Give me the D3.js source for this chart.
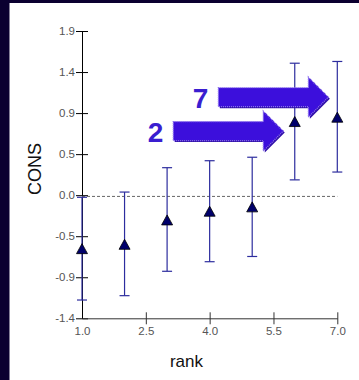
<!DOCTYPE html>
<html>
<head>
<meta charset="utf-8">
<script src="https://cdn.jsdelivr.net/npm/d3@7/dist/d3.min.js"></script>
<style>
  html, body { margin: 0; padding: 0; background: #0b0030; }
  svg { display: block; }
</style>
</head>
<body>
<svg id="chart" width="359" height="380"></svg>
<script>
// Mean CONS per rank with confidence interval
const ranks = [1, 2, 3, 4, 5, 6, 7];
const means = [-0.60, -0.55, -0.27, -0.17, -0.12, 0.86, 0.91];
const lower = [-1.19, -1.14, -0.86, -0.75, -0.69, 0.19, 0.28];
const upper = [-0.01, 0.05, 0.33, 0.41, 0.45, 1.53, 1.55];

// Axis ticks
const xTicks = [1.0, 2.5, 4.0, 5.5, 7.0];
const yTickLabels = ["-1.4", "-0.9", "-0.5", "0.0", "0.5", "0.9", "1.4", "1.9"];

// Arrow callouts (tip in data coordinates)
const arrowLabels = ["7", "2"];
const arrowTipRank = [6.79, 5.73];
const arrowTipValue = [1.14, 0.75];

const svg = d3.select("#chart");
const W = 359, H = 380;

// white plotting panel inside the dark frame
svg.append("rect").attr("x", 0).attr("y", 0).attr("width", W).attr("height", H).attr("fill", "#0b0030");
svg.append("rect").attr("x", 9.5).attr("y", 3).attr("width", W - 9.5).attr("height", H - 3).attr("fill", "#ffffff");

const yMin = -1.4, yMax = 1.9;
const x = d3.scaleLinear().domain([1, 7]).range([82, 337.3]);
const y = d3.scaleLinear().domain([yMin, yMax]).range([318.3, 31]);

const font = "'Liberation Sans', Arial, sans-serif";

// Y axis: evenly spaced ticks labelled with one decimal
const yTickVals = d3.range(yTickLabels.length).map(k => yMin + k * (yMax - yMin) / (yTickLabels.length - 1));
const yAxis = d3.axisLeft(y)
  .tickValues(yTickVals)
  .tickFormat((d, i) => yTickLabels[i])
  .tickSize(6)
  .tickSizeOuter(0)
  .tickPadding(1);
const gy = svg.append("g").attr("transform", `translate(${x(1)},0)`).call(yAxis);
gy.select(".domain").attr("stroke", "#000");
gy.selectAll(".tick line").attr("x1", 6).attr("stroke", "#000");
gy.selectAll(".tick text").attr("fill", "#555").style("font", `11.5px ${font}`);

// X axis
const xAxis = d3.axisBottom(x)
  .tickValues(xTicks)
  .tickFormat(d3.format(".1f"))
  .tickSize(6)
  .tickSizeOuter(0)
  .tickPadding(3);
const gx = svg.append("g").attr("transform", `translate(0,${y(yMin)})`).call(xAxis);
gx.select(".domain").attr("stroke", "#333");
gx.selectAll(".tick line").attr("y1", -6).attr("stroke", "#333")
  .attr("display", d => d === 1 ? "none" : null);
gx.selectAll(".tick text").attr("fill", "#555").style("font", `11.5px ${font}`);

// Axis titles
svg.append("text")
  .attr("transform", `translate(40.5,169) rotate(-90)`)
  .attr("text-anchor", "middle")
  .attr("fill", "#111")
  .style("font", `18px ${font}`)
  .text("CONS");
svg.append("text")
  .attr("x", 186.5).attr("y", 366.5)
  .attr("text-anchor", "middle")
  .attr("fill", "#111")
  .style("font", `17px ${font}`)
  .text("rank");

// Reference line at zero
svg.append("line")
  .attr("x1", x(1)).attr("x2", x(7))
  .attr("y1", y(0)).attr("y2", y(0))
  .attr("stroke", "#666").attr("stroke-width", 1)
  .attr("stroke-dasharray", "3,2");

// Error bars
const data = ranks.map((r, i) => ({ r, m: means[i], lo: lower[i], hi: upper[i] }));
const bars = svg.append("g").attr("stroke", "#2d2d9e").attr("stroke-width", 1.2);
data.forEach(d => {
  bars.append("line").attr("x1", x(d.r)).attr("x2", x(d.r)).attr("y1", y(d.hi)).attr("y2", y(d.lo));
  bars.append("line").attr("x1", x(d.r) - 5).attr("x2", x(d.r) + 5).attr("y1", y(d.hi)).attr("y2", y(d.hi));
  bars.append("line").attr("x1", x(d.r) - 5).attr("x2", x(d.r) + 5).attr("y1", y(d.lo)).attr("y2", y(d.lo));
});

// Triangle markers at the means
const tri = d3.path();
tri.moveTo(0, -5); tri.lineTo(5.5, 5); tri.lineTo(-5.5, 5); tri.closePath();
svg.append("g").selectAll("path")
  .data(data)
  .join("path")
  .attr("d", tri.toString())
  .attr("transform", d => `translate(${x(d.r)},${y(d.m)})`)
  .attr("fill", "#00006b")
  .attr("stroke", "#000")
  .attr("stroke-width", 0.8);

// Block arrows with number labels
function arrowPath(len, bodyH, headL, headH) {
  const p = d3.path();
  p.moveTo(-len, -bodyH / 2);
  p.lineTo(-headL, -bodyH / 2);
  p.lineTo(-headL, -headH / 2);
  p.lineTo(0, 0);
  p.lineTo(-headL, headH / 2);
  p.lineTo(-headL, bodyH / 2);
  p.lineTo(-len, bodyH / 2);
  p.closePath();
  return p.toString();
}
const arrowD = arrowPath(110, 19, 20, 40);
arrowLabels.forEach((lab, i) => {
  const tx = x(arrowTipRank[i]), ty = y(arrowTipValue[i]);
  const g = svg.append("g").attr("transform", `translate(${tx},${ty})`);
  g.append("path").attr("d", arrowD).attr("transform", "translate(1.5,1.5)").attr("fill", "#3010a8");
  g.append("path").attr("d", arrowD).attr("fill", "#3c0fdc")
    .attr("stroke", "#8f74ee").attr("stroke-width", 1.3).attr("stroke-dasharray", "1,1");
  g.append("text")
    .attr("x", -120).attr("y", 11)
    .attr("text-anchor", "end")
    .attr("fill", "#3a1ed0")
    .style("font", `bold 28px ${font}`)
    .text(lab);
});
</script>
</body>
</html>
